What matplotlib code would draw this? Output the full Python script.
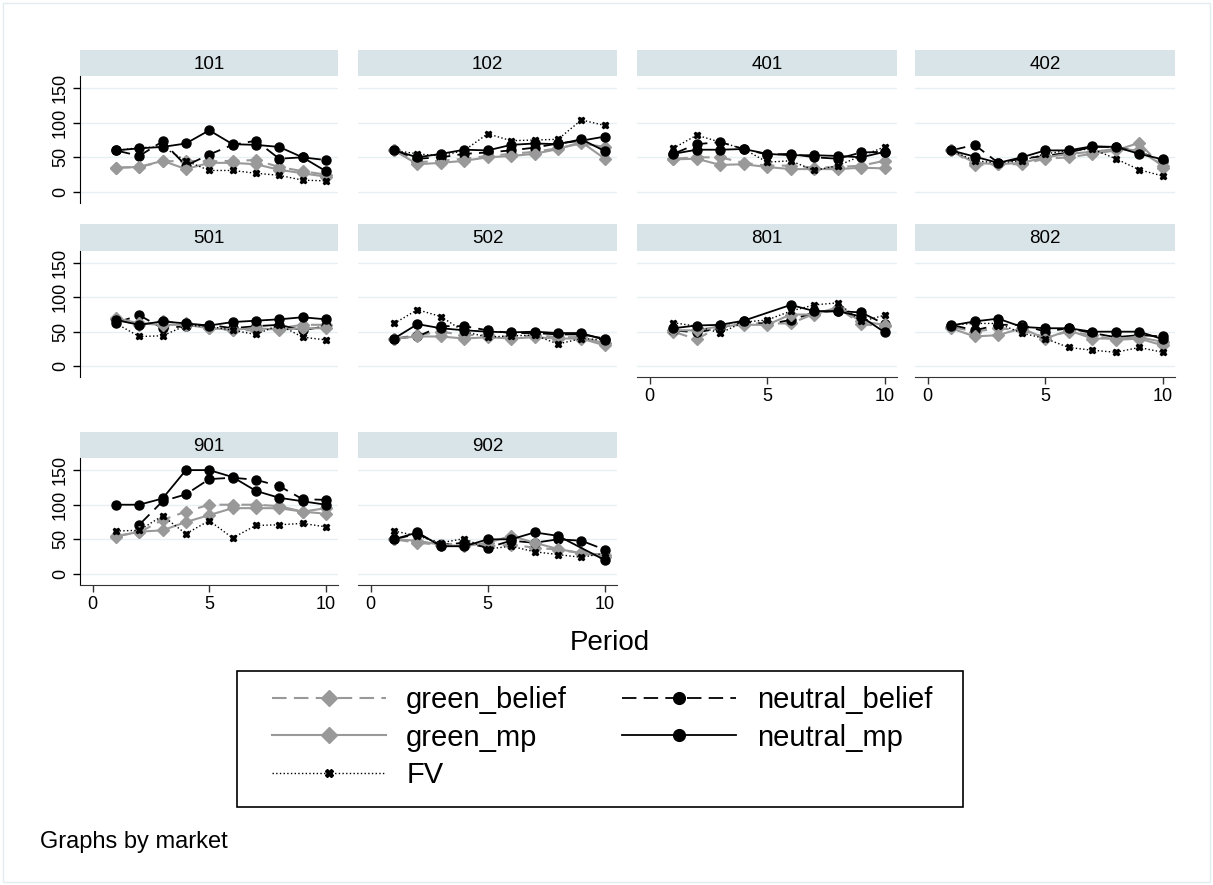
import numpy as np
import matplotlib.pyplot as plt
from matplotlib.lines import Line2D
from matplotlib.patches import Rectangle

plt.rcParams['font.family'] = ['Liberation Sans', 'DejaVu Sans']

nan = np.nan
periods = np.arange(1, 11)
markets = ['101', '102', '401', '402', '501', '502', '801', '802', '901', '902']

green_belief = {
    '101': [35, 36, 44, 45, 44, 45, 46, 36, 30, 25],
    '102': [60, 43, 45, 48, 52, 55, 58, 63, 70, 65],
    '401': [48, 50, 50, 42, 38, 38, 35, 36, 38, 45],
    '402': [60, 39, 40, 40, 48, 50, 55, 60, 71, 35],
    '501': [68, 60, 65, 62, 55, 52, 52, 55, 60, 60],
    '502': [40, 45, 50, 45, 45, 42, 45, 42, 42, 33],
    '801': [50, 39, 58, 62, 62, 62, 76, 85, 61, 58],
    '802': [57, 50, 55, 52, 42, 50, 45, 38, 40, 30],
    '901': [55, 60, 78, 90, 100, 100, 100, 98, 90, 87],
    '902': [50, 45, 42, 45, 40, 42, 38, 35, 30, 28],
}
green_mp = {
    '101': [35, 36, 45, 33, 42, 42, 40, 32, 27, 22],
    '102': [60, 40, 42, 45, 50, 52, 55, 62, 72, 48],
    '401': [47, 48, 39, 40, 36, 33, 33, 33, 35, 34],
    '402': [60, 42, 40, 42, 50, 55, 58, 62, 60, 38],
    '501': [70, 62, 60, 60, 55, 53, 55, 53, 55, 55],
    '502': [40, 43, 43, 40, 42, 40, 42, 40, 40, 30],
    '801': [52, 52, 58, 60, 60, 75, 75, 85, 65, 60],
    '802': [55, 43, 45, 55, 40, 52, 40, 40, 42, 35],
    '901': [54, 61, 63, 75, 85, 95, 95, 95, 90, 95],
    '902': [50, 48, 42, 40, 45, 55, 45, 36, 30, 25],
}
neutral_belief = {
    '101': [60, 52, 73, 38, 54, 68, 74, 48, 50, 46],
    '102': [60, 48, 50, 55, 57, 60, 64, 70, 74, 80],
    '401': [55, 69, 72, 62, 54, 55, 50, 48, 57, 58],
    '402': [60, 68, 42, 48, 52, 57, 65, 65, 58, 45],
    '501': [63, 74, 55, 58, 60, 55, 58, 60, 52, 58],
    '502': [40, 43, 58, 58, 52, 48, 48, 46, 46, 40],
    '801': [52, 49, 55, 65, 61, 67, 78, 80, 78, 61],
    '802': [60, 52, 60, 60, 50, 55, 48, 42, 45, 43],
    '901': [nan, 71, 105, 115, 137, 139, 136, 127, 108, 107],
    '902': [50, 58, 42, 45, 38, 48, 45, 50, 48, 35],
}
neutral_mp = {
    '101': [60, 63, 65, 70, 89, 69, 68, 65, 50, 30],
    '102': [60, 50, 55, 61, 60, 68, 70, 69, 76, 59],
    '401': [55, 61, 61, 62, 55, 53, 53, 52, 50, 58],
    '402': [60, 51, 42, 50, 60, 60, 66, 65, 55, 47],
    '501': [67, 60, 65, 62, 59, 64, 66, 68, 71, 68],
    '502': [40, 61, 55, 52, 50, 49, 50, 48, 48, 38],
    '801': [55, 59, 60, 66, nan, 89, 80, 80, 72, 49],
    '802': [59, 65, 69, 57, 55, 55, 50, 50, 50, 39],
    '901': [100, 100, 109, 150, 150, 140, 120, 110, 105, 100],
    '902': [50, 60, 40, 40, 50, 50, 60, 55, nan, 20],
}
fv = {
    '101': [60, 64, 65, 45, 31, 31, 27, 24, 17, 16],
    '102': [60, 55, 52, 60, 84, 74, 75, 76, 104, 96],
    '401': [63, 82, 72, 62, 43, 45, 31, 38, 52, 65],
    '402': [60, 45, 42, 45, 55, 60, 62, 48, 32, 23],
    '501': [62, 43, 44, 59, 58, 52, 46, 60, 42, 38],
    '502': [62, 82, 72, 50, 42, 44, 45, 32, 40, 38],
    '801': [63, 58, 48, 64, 67, 80, 89, 92, 65, 74],
    '802': [60, 62, 62, 48, 40, 27, 23, 20, 27, 20],
    '901': [62, 63, 84, 58, 77, 52, 70, 71, 73, 68],
    '902': [62, 55, 45, 51, 36, 40, 32, 28, 24, 30],
}

GRAY = '#999999'
series = [
    ('green_belief', green_belief, dict(color=GRAY, lw=1.5, dashes=(7, 3.5), marker='D', ms=6)),
    ('neutral_belief', neutral_belief, dict(color='black', lw=1.3, dashes=(8, 4), marker='o', ms=6.5)),
    ('green_mp', green_mp, dict(color=GRAY, lw=1.5, ls='-', marker='D', ms=6)),
    ('neutral_mp', neutral_mp, dict(color='black', lw=1.3, ls='-', marker='o', ms=6.5)),
    ('FV', fv, dict(color='black', lw=1.0, ls=':', marker='X', ms=4.5)),
]

W, H = 1213, 885


def box(x0, y0, x1, y1):
    return [x0 / W, 1 - y1 / H, (x1 - x0) / W, (y1 - y0) / H]


cols = [(80, 338), (358, 617), (637, 897), (915, 1175)]
rows = [(50, 76, 203), (224, 251, 377), (432, 458, 585)]
with_xaxis = {'801', '802', '901', '902'}

fig = plt.figure(figsize=(W / 100, H / 100), dpi=100)
fig.patches.append(Rectangle((3 / W, 3 / H), 1 - 6 / W, 1 - 6 / H, transform=fig.transFigure,
                             fill=False, edgecolor='#e3ecef', lw=1))

for i, m in enumerate(markets):
    r, c = divmod(i, 4)
    x0, x1 = cols[c]
    st, sb, pb = rows[r]

    # title strip
    sax = fig.add_axes(box(x0, st, x1, sb))
    sax.set_facecolor('#d9e4e8')
    sax.set_xticks([])
    sax.set_yticks([])
    for s in sax.spines.values():
        s.set_visible(False)
    sax.text(0.5, 0.45, m, ha='center', va='center', fontsize=13.5, transform=sax.transAxes)

    ax = fig.add_axes(box(x0, sb, x1, pb))
    ax.set_xlim(-0.54, 10.52)
    ax.set_ylim(-16, 167.5)
    for s in ax.spines.values():
        s.set_visible(False)
    for yv in [0, 50, 100, 150]:
        ax.axhline(yv, color='#e6eff1', lw=1, zorder=0)

    for name, data, style in series:
        y = np.array(data[m], dtype=float)
        ok = ~np.isnan(y)
        ax.plot(periods[ok], y[ok], zorder=2, **style)

    if c == 0:
        ax.spines['left'].set_visible(True)
        ax.spines['left'].set_color('black')
        ax.set_yticks([0, 50, 100, 150])
        ax.set_yticklabels(['0', '50', '100', '150'], rotation=90, va='center', fontsize=13)
        ax.tick_params(axis='y', length=5, width=1, pad=3)
    else:
        ax.set_yticks([])

    if m in with_xaxis:
        ax.spines['bottom'].set_visible(True)
        ax.spines['bottom'].set_color('#333333')
        ax.set_xticks([0, 5, 10])
        ax.tick_params(axis='x', length=5, width=1, pad=3, labelsize=13, color='#333333')
    else:
        ax.set_xticks([])

fig.text(610 / W, 1 - 643 / H, 'Period', ha='center', va='center', fontsize=20)
fig.text(40 / W, 1 - 842 / H, 'Graphs by market', ha='left', va='center', fontsize=17)

handles = []
labels = []
for key in ['green_belief', 'green_mp', 'FV', 'neutral_belief', 'neutral_mp']:
    for name, data, style in series:
        if name == key:
            handles.append(Line2D([], [], **style))
            labels.append(name)

# legend frame drawn separately so the padding can differ per side
fig.patches.append(Rectangle((237 / W, 1 - 807 / H), (963 - 237) / W, (807 - 671) / H,
                             transform=fig.transFigure, fill=False, edgecolor='black', lw=1.2))
fig.legend(handles, labels, ncol=2, loc='upper left', bbox_to_anchor=(272 / W, 1 - 686 / H),
           frameon=False, fontsize=21, handlelength=3.9, handletextpad=0.7, markerscale=1.3,
           columnspacing=1.9, labelspacing=0.33, borderpad=0, borderaxespad=0)

fig.savefig('out.png', dpi=100)
